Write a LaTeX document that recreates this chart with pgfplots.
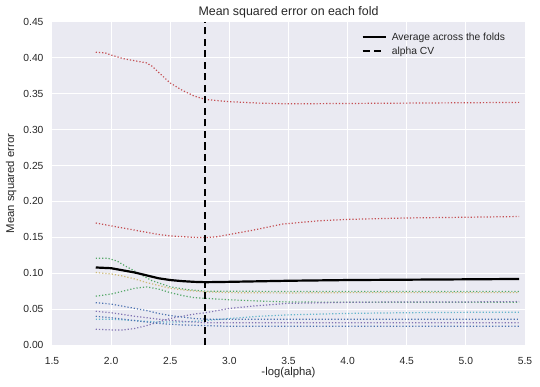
\documentclass[border=0pt]{standalone}
\usepackage{fontspec}
\setmainfont{Liberation Sans}
\usepackage{pgfplots}
\pgfplotsset{compat=1.18}
\definecolor{bgc}{HTML}{EAEAF2}
\definecolor{txt}{HTML}{262626}
\definecolor{sbblue}{HTML}{4C72B0}
\definecolor{sbgreen}{HTML}{55A868}
\definecolor{sbred}{HTML}{C44E52}
\definecolor{sbpurple}{HTML}{8172B2}
\definecolor{sbyellow}{HTML}{CCB974}
\definecolor{sbcyan}{HTML}{64B5CD}
\begin{document}
\begin{tikzpicture}
\begin{axis}[
  name=ax,
  width=473pt, height=323pt, scale only axis,
  xmin=1.5, xmax=5.5, ymin=0, ymax=0.45,
  axis background/.style={fill=bgc},
  axis line style={draw=none},
  tick style={draw=none},
  grid=major,
  major grid style={white, line width=1pt},
  xtick={1.5,2.0,2.5,3.0,3.5,4.0,4.5,5.0,5.5},
  ytick={0,0.05,0.10,0.15,0.20,0.25,0.30,0.35,0.40,0.45},
  /pgf/number format/assume math mode=true,
  x tick label style={/pgf/number format/.cd, fixed, fixed zerofill, precision=1, /tikz/.cd, font=\fontsize{10.3}{12}\selectfont, text=txt, yshift=-9pt},
  y tick label style={/pgf/number format/.cd, fixed, fixed zerofill, precision=2, /tikz/.cd, font=\fontsize{10.3}{12}\selectfont, text=txt, xshift=-5pt},
  xlabel={-log(alpha)},
  xlabel style={yshift=4pt},
  ylabel={Mean squared error},
  label style={font=\fontsize{11.3}{13}\selectfont, text=txt},
  title={Mean squared error on each fold},
  title style={font=\fontsize{12.4}{14}\selectfont, text=txt, yshift=-6pt},
  legend style={draw=none, fill=none, at={(0.975,0.98)}, anchor=north east, font=\fontsize{10.3}{12}\selectfont, text=txt, row sep=1pt, nodes={inner xsep=5pt}},
  legend cell align=left,
  legend image code/.code={\draw[#1] (0pt,0pt) -- (23pt,0pt);},
  every axis plot/.append style={line join=round},
]
% folds
\addplot[sbred, dotted, line width=1.2pt, forget plot] coordinates {
(1.87,0.408) (1.95,0.407) (2.0,0.404) (2.1,0.399) (2.2,0.396) (2.3,0.393) (2.35,0.388) (2.4,0.380) (2.5,0.365) (2.6,0.355) (2.7,0.347) (2.8,0.342) (3.0,0.339) (3.25,0.337) (3.5,0.336) (4.0,0.3365) (4.5,0.337) (5.0,0.3375) (5.45,0.338)};
\addplot[sbred, dotted, line width=1.2pt, forget plot] coordinates {
(1.87,0.170) (2.0,0.166) (2.1,0.163) (2.2,0.160) (2.3,0.157) (2.4,0.154) (2.5,0.152) (2.6,0.151) (2.7,0.150) (2.8,0.1497) (2.9,0.151) (3.0,0.154) (3.2,0.160) (3.45,0.1685) (3.75,0.173) (4.0,0.175) (4.5,0.177) (5.0,0.178) (5.45,0.179)};
\addplot[sbgreen, dotted, line width=1.2pt, forget plot] coordinates {
(1.87,0.121) (1.97,0.121) (2.05,0.117) (2.12,0.110) (2.2,0.103) (2.34,0.090) (2.5,0.081) (2.65,0.077) (2.8,0.075) (3.0,0.075) (3.5,0.0745) (4.0,0.0745) (4.5,0.0745) (5.0,0.0745) (5.45,0.0745)};
\addplot[sbyellow, dotted, line width=1.2pt, forget plot] coordinates {
(1.87,0.101) (2.0,0.099) (2.1,0.096) (2.2,0.092) (2.3,0.087) (2.4,0.083) (2.5,0.079) (2.65,0.076) (2.8,0.074) (3.0,0.073) (3.5,0.0725) (4.0,0.073) (4.5,0.073) (5.0,0.073) (5.45,0.073)};
\addplot[sbgreen, dotted, line width=1.2pt, forget plot] coordinates {
(1.87,0.068) (2.0,0.071) (2.1,0.075) (2.2,0.079) (2.3,0.081) (2.4,0.078) (2.5,0.073) (2.6,0.069) (2.7,0.066) (2.8,0.065) (3.0,0.063) (3.3,0.061) (3.5,0.060) (4.0,0.0595) (4.5,0.0595) (5.0,0.0595) (5.45,0.0595)};
\addplot[sbpurple, dotted, line width=1.2pt, forget plot] coordinates {
(1.87,0.022) (2.0,0.021) (2.1,0.021) (2.2,0.023) (2.3,0.027) (2.4,0.032) (2.5,0.037) (2.6,0.040) (2.7,0.043) (2.8,0.045) (3.0,0.051) (3.25,0.055) (3.5,0.058) (4.0,0.0595) (4.5,0.060) (5.0,0.060) (5.45,0.0605)};
\addplot[sbcyan, dotted, line width=1.2pt, forget plot] coordinates {
(1.87,0.036) (2.0,0.036) (2.2,0.034) (2.4,0.032) (2.6,0.032) (2.8,0.034) (3.0,0.037) (3.25,0.040) (3.5,0.042) (4.0,0.044) (4.5,0.045) (5.0,0.0455) (5.45,0.0455)};
\addplot[sbblue, dotted, line width=1.2pt, forget plot] coordinates {
(1.87,0.059) (2.0,0.057) (2.1,0.054) (2.2,0.051) (2.3,0.048) (2.4,0.044) (2.5,0.041) (2.6,0.039) (2.7,0.037) (2.8,0.036) (3.0,0.036) (3.5,0.036) (4.0,0.036) (4.5,0.036) (5.0,0.036) (5.45,0.036)};
\addplot[sbpurple, dotted, line width=1.2pt, forget plot] coordinates {
(1.87,0.047) (2.0,0.045) (2.2,0.040) (2.4,0.036) (2.6,0.033) (2.8,0.031) (3.0,0.031) (3.5,0.031) (4.0,0.031) (4.5,0.031) (5.0,0.031) (5.45,0.031)};
\addplot[sbblue, dotted, line width=1.2pt, forget plot] coordinates {
(1.87,0.040) (2.0,0.038) (2.2,0.034) (2.4,0.030) (2.6,0.028) (2.8,0.027) (3.0,0.026) (3.5,0.026) (4.0,0.026) (4.5,0.026) (5.0,0.026) (5.45,0.026)};
% average
\addplot[black, solid, line width=2.2pt] coordinates {
(1.87,0.108) (2.0,0.107) (2.1,0.104) (2.2,0.101) (2.3,0.097) (2.4,0.093) (2.5,0.0905) (2.6,0.089) (2.7,0.088) (2.8,0.0875) (3.0,0.088) (3.5,0.0895) (4.0,0.0905) (4.5,0.091) (5.0,0.0915) (5.45,0.092)};
\addlegendentry{Average across the folds}
\addplot[black, line width=2pt, dash pattern=on 7pt off 4.5pt] coordinates {(2.79,0) (2.79,0.45)};
\addlegendentry{alpha CV}
\end{axis}
\pgfresetboundingbox
\path[use as bounding box] ([shift={(-52pt,-41pt)}]ax.south west) rectangle ([shift={(15pt,22pt)}]ax.north east);
\end{tikzpicture}
\end{document}
